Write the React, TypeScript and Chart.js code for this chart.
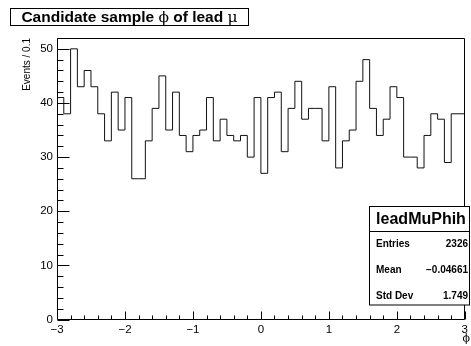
import React, { useEffect, useRef } from 'react';
import { Chart, registerables } from 'chart.js';

Chart.register(...registerables);

// ---- data ----
const binStart = -3;
const binWidth = 0.1;
const binCounts = [
  41, 38, 50, 43, 46, 43, 38, 33, 42, 35,
  41, 26, 26, 33, 39, 45, 35, 42, 34, 31,
  34, 35, 41, 33, 37, 34, 33, 34, 30, 41,
  27, 41, 42, 31, 39, 44, 37, 39, 39, 33,
  43, 28, 33, 35, 44, 48, 39, 34, 37, 43,
  41, 30, 30, 28, 34, 38, 37, 29, 38, 38,
];
const xTickValues = [-3, -2, -1, 0, 1, 2, 3];
const yTickValues = [0, 10, 20, 30, 40, 50];
const xMinorStep = 0.2;
const yMinorStep = 2;
const xRange = [-3, 3];
const yRange = [0, 52];

const titleParts = [
  { text: 'Candidate sample ', symbol: false },
  { text: '\u03D5', symbol: true },
  { text: ' of lead ', symbol: false },
  { text: '\u03BC', symbol: true },
];
const statsTitle = 'leadMuPhih';
const statsLabels = ['Entries', 'Mean', 'Std Dev'];
const statsValues = ['2326', '\u22120.04661', '1.749'];
const yAxisTitle = 'Events / 0.1';
const xAxisTitle = '\u03D5';

const SANS = '"Liberation Sans", Arial, Helvetica, sans-serif';
const SERIF = '"DejaVu Serif", "Liberation Serif", serif';

const fmtNum = (v: number) => {
  const s = String(Math.round(v * 1000) / 1000);
  return s.replace('-', '\u2212');
};

const rootPlugin = {
  id: 'rootStyle',
  afterDraw(chart: any) {
    const ctx: CanvasRenderingContext2D = chart.ctx;
    const { left, right, top, bottom } = chart.chartArea;
    const xs = chart.scales.x;
    const ys = chart.scales.y;
    ctx.save();
    ctx.strokeStyle = '#000';
    ctx.lineWidth = 1;

    // frame
    const L = Math.round(left) + 0.5;
    const R = Math.round(right) - 0.5;
    const T = Math.round(top) + 0.5;
    const B = Math.round(bottom) - 0.5;
    ctx.beginPath();
    ctx.rect(L, T, R - L, B - T);
    ctx.stroke();

    // x ticks (inward)
    const nX = Math.round((xRange[1] - xRange[0]) / xMinorStep);
    ctx.beginPath();
    for (let i = 0; i <= nX; i++) {
      const v = xRange[0] + i * xMinorStep;
      const major = Math.abs(v - Math.round(v)) < 1e-6;
      const px = Math.round(xs.getPixelForValue(v)) + 0.5;
      const len = major ? 8 : 4;
      ctx.moveTo(px, B);
      ctx.lineTo(px, B - len);
    }
    // y ticks (inward)
    const nY = Math.round((yRange[1] - yRange[0]) / yMinorStep);
    for (let i = 0; i <= nY; i++) {
      const v = yRange[0] + i * yMinorStep;
      const major = v % 10 === 0;
      const py = Math.round(ys.getPixelForValue(v)) + 0.5;
      const len = major ? 12 : 6;
      ctx.moveTo(L, py);
      ctx.lineTo(L + len, py);
    }
    ctx.stroke();

    // y axis title (right aligned at top)
    ctx.save();
    ctx.translate(27, top);
    ctx.rotate(-Math.PI / 2);
    ctx.font = `10px ${SANS}`;
    ctx.fillStyle = '#000';
    ctx.textAlign = 'right';
    ctx.textBaseline = 'middle';
    ctx.fillText(yAxisTitle, 0, 0);
    ctx.restore();

    // x axis title
    ctx.font = `11px ${SERIF}`;
    ctx.fillStyle = '#000';
    ctx.textAlign = 'right';
    ctx.textBaseline = 'middle';
    ctx.fillText(xAxisTitle, 470, 339);

    // title box
    const tbx = 10.5, tby = 8.5, tbw = 238, tbh = 17;
    ctx.fillStyle = '#fff';
    ctx.fillRect(tbx, tby, tbw, tbh);
    ctx.strokeRect(tbx, tby, tbw, tbh);
    const fonts = titleParts.map((p) => (p.symbol ? `15.5px ${SERIF}` : `bold 15.5px ${SANS}`));
    let total = 0;
    const widths = titleParts.map((p, i) => {
      ctx.font = fonts[i];
      const w = ctx.measureText(p.text).width;
      total += w;
      return w;
    });
    let cx = tbx + tbw / 2 - total / 2;
    ctx.fillStyle = '#000';
    ctx.textAlign = 'left';
    ctx.textBaseline = 'alphabetic';
    titleParts.forEach((p, i) => {
      ctx.font = fonts[i];
      ctx.fillText(p.text, cx, 22);
      cx += widths[i];
    });

    // stats box
    const sx = 369.5, sy = 206.5, sw = 100, sh = 98.5;
    ctx.fillStyle = '#fff';
    ctx.fillRect(sx, sy, sw, sh);
    ctx.strokeRect(sx, sy, sw, sh);
    ctx.beginPath();
    ctx.moveTo(sx, 231.5);
    ctx.lineTo(sx + sw, 231.5);
    ctx.stroke();
    ctx.fillStyle = '#000';
    ctx.font = `bold 16px ${SANS}`;
    ctx.textAlign = 'center';
    ctx.textBaseline = 'middle';
    ctx.fillText(statsTitle, 421, 220);
    ctx.font = `bold 10px ${SANS}`;
    const rowY = [244, 270, 296];
    statsLabels.forEach((lab, i) => {
      ctx.textAlign = 'left';
      ctx.fillText(lab, 376, rowY[i]);
      ctx.textAlign = 'right';
      ctx.fillText(statsValues[i], 468, rowY[i]);
    });
    ctx.restore();
  },
};

export default function App() {
  const ref = useRef<HTMLCanvasElement | null>(null);
  useEffect(() => {
    document.body.style.margin = '0';
    document.body.style.overflow = 'hidden';
    const canvas = ref.current;
    if (!canvas) return;
    const points = binCounts.map((c, i) => ({ x: binStart + i * binWidth, y: c }));
    points.push({ x: binStart + binCounts.length * binWidth, y: binCounts[binCounts.length - 1] });
    const tickFont = { family: SANS, size: 11.5 };
    const chart = new Chart(canvas, {
      type: 'line',
      data: {
        datasets: [
          {
            data: points,
            stepped: 'before',
            borderColor: '#111',
            borderWidth: 1,
            pointRadius: 0,
            fill: false,
            tension: 0,
          },
        ],
      },
      options: {
        animation: false,
        responsive: false,
        devicePixelRatio: 1,
        layout: { padding: { left: 0, top: 38, right: 1, bottom: 0 }, autoPadding: false },
        plugins: { legend: { display: false }, tooltip: { enabled: false }, title: { display: false } },
        scales: {
          x: {
            type: 'linear',
            min: xRange[0],
            max: xRange[1],
            afterBuildTicks: (s: any) => {
              s.ticks = xTickValues.map((v) => ({ value: v }));
            },
            afterFit: (s: any) => {
              s.height = 26.5;
            },
            grid: { display: false, drawTicks: false },
            border: { display: false },
            ticks: {
              padding: 3,
              font: tickFont,
              color: '#000',
              maxRotation: 0,
              autoSkip: false,
              callback: (v: any) => fmtNum(Number(v)),
            },
          },
          y: {
            type: 'linear',
            min: yRange[0],
            max: yRange[1],
            afterBuildTicks: (s: any) => {
              s.ticks = yTickValues.map((v) => ({ value: v }));
            },
            afterFit: (s: any) => {
              s.width = 57;
            },
            grid: { display: false, drawTicks: false },
            border: { display: false },
            ticks: {
              padding: 4,
              font: tickFont,
              color: '#000',
              autoSkip: false,
              callback: (v: any) => fmtNum(Number(v)),
            },
          },
        },
      },
      plugins: [rootPlugin],
    } as any);
    return () => chart.destroy();
  }, []);
  return (
    <div style={{ width: 471, height: 346, position: 'relative', background: '#fff' }}>
      <canvas ref={ref} width={471} height={346} style={{ display: 'block', width: 471, height: 346 }} />
    </div>
  );
}
